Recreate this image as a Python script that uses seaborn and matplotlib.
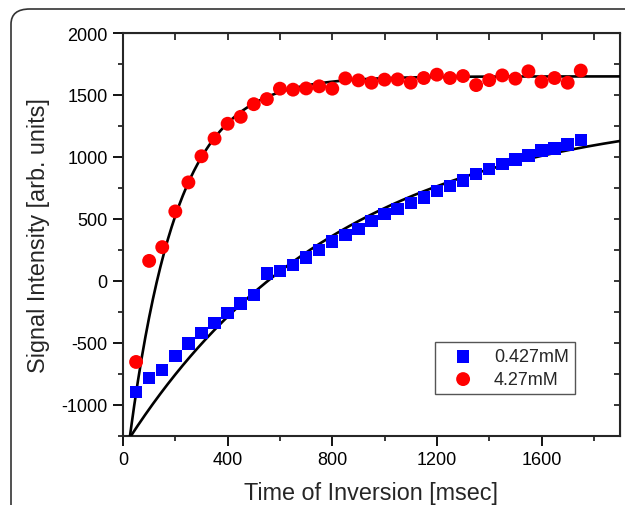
import numpy as np
import pandas as pd
import seaborn as sns
import matplotlib.pyplot as plt
from matplotlib.patches import FancyBboxPatch

# inversion times (msec)
t_inv = [50, 100, 150, 200, 250, 300, 350, 400, 450, 500, 550, 600, 650, 700,
         750, 800, 850, 900, 950, 1000, 1050, 1100, 1150, 1200, 1250, 1300,
         1350, 1400, 1450, 1500, 1550, 1600, 1650, 1700, 1750]

sig_low = [-896, -782, -720, -607, -504, -418, -337, -256, -183, -113, 62, 81,
           129, 189, 251, 318, 372, 421, 485, 539, 580, 628, 674, 728, 768,
           809, 863, 902, 942, 979, 1011, 1052, 1068, 1100, 1135]

sig_high = [-653, 162, 273, 561, 795, 1006, 1149, 1268, 1324, 1426, 1467, 1551,
            1543, 1553, 1570, 1551, 1634, 1618, 1599, 1624, 1626, 1599, 1637,
            1664, 1637, 1653, 1580, 1620, 1658, 1632, 1691, 1607, 1637, 1599,
            1697]

# fit parameters: S(t) = A - B*exp(-t/T1)
fit_low = (1400, 2749, 820)
fit_high = (1650, 3355, 183)

sns.set_style('ticks')
plt.rcParams['font.family'] = ['Liberation Sans', 'DejaVu Sans']
plt.rcParams['axes.unicode_minus'] = False

fig = plt.figure(figsize=(6.25, 5.06), dpi=100)
ax = fig.add_axes([0.1968, 0.1364, 0.7952, 0.7964])

low = pd.DataFrame({'t': t_inv, 'signal': sig_low})
high = pd.DataFrame({'t': t_inv, 'signal': sig_high})

tt = np.linspace(0, 1900, 400)
for A, B, T1 in (fit_low, fit_high):
    ax.plot(tt, A - B * np.exp(-tt / T1), color='black', lw=1.9, zorder=3)

sns.scatterplot(data=low, x='t', y='signal', color='#0000ff', marker='s',
                s=80, edgecolor='none', ax=ax, zorder=4, label='0.427mM')
sns.scatterplot(data=high, x='t', y='signal', color='#ff0000', marker='o',
                s=100, edgecolor='none', ax=ax, zorder=4, label='4.27mM')

ax.set_xlim(0, 1900)
ax.set_ylim(-1250, 2000)
ax.set_xticks([0, 400, 800, 1200, 1600])
ax.set_xticks(np.arange(200, 1900, 400), minor=True)
ax.set_yticks(np.arange(-1000, 2001, 500))
ax.set_yticks(np.arange(-1250, 2000, 500), minor=True)
ax.tick_params(which='major', direction='out', length=7, width=1.3, labelsize=13,
               colors='black', pad=4)
ax.tick_params(which='minor', direction='out', length=3.5, width=1.3)
for sp in ax.spines.values():
    sp.set_linewidth(1.5)
    sp.set_visible(True)

top = ax.secondary_xaxis('top')
top.set_xticks(np.arange(200, 1900, 200))
top.tick_params(direction='in', length=5, width=1.3, labeltop=False)
right = ax.secondary_yaxis('right')
right.set_yticks(np.arange(-1000, 2000, 250))
right.tick_params(direction='in', length=4, width=1.3, labelright=False)

ax.set_xlabel('Time of Inversion [msec]', fontsize=16.8, labelpad=9)
ax.set_ylabel('Signal Intensity [arb. units]', fontsize=16.8, labelpad=8)

h, l = ax.get_legend_handles_labels()
ax.legend(h, l, loc='upper left', bbox_to_anchor=(0.628, 0.233),
          fontsize=13, frameon=True, fancybox=False,
          edgecolor='#555555', framealpha=1, borderpad=0.35, labelspacing=0.3,
          handlelength=2.4, handletextpad=0.5, borderaxespad=0)

# rounded frame around the figure
frame = FancyBboxPatch((11 / 625, -0.2), 1.2, 1.2 - 10 / 506,
                       boxstyle='round,pad=0,rounding_size=0.03',
                       transform=fig.transFigure, fill=False,
                       edgecolor='#333333', lw=1.2, clip_on=False)
fig.patches.append(frame)

fig.savefig('out.png', dpi=100)
